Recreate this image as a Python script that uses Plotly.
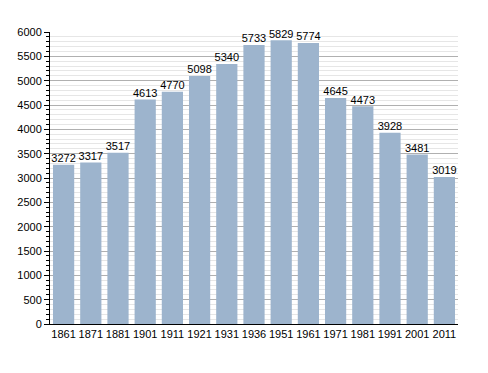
import plotly.graph_objects as go

years = ["1861","1871","1881","1901","1911","1921","1931","1936","1951","1961","1971","1981","1991","2001","2011"]
population = [3272,3317,3517,4613,4770,5098,5340,5733,5829,5774,4645,4473,3928,3481,3019]
y_ticks = list(range(0, 6001, 500))

fig = go.Figure()
fig.add_trace(go.Bar(
    x=years, y=population,
    marker=dict(color="#9db4cd", line=dict(width=0)),
    width=0.78, hoverinfo="x+y",
))
fig.add_trace(go.Scatter(
    x=years, y=population, mode="text",
    text=[str(v) for v in population], textposition="top center",
    textfont=dict(size=11, color="#000"), cliponaxis=False, hoverinfo="skip",
))
fig.update_layout(
    width=488, height=373,
    margin=dict(l=50, r=30, t=32, b=49),
    paper_bgcolor="white", plot_bgcolor="white",
    font=dict(family="Liberation Sans, Arial, sans-serif", size=11, color="#000"),
    showlegend=False,
)
fig.update_xaxes(type="category", range=[-0.5, len(years) - 0.5], tickangle=0,
                 showline=True, linecolor="#000", linewidth=1,
                 ticks="", showgrid=False, tickfont=dict(size=11))
fig.update_yaxes(range=[0, 6000], tickvals=y_ticks, showline=True, linecolor="#000", linewidth=1,
                 ticks="outside", ticklen=5, tickcolor="#000",
                 showgrid=True, gridcolor="#b0b0b0", gridwidth=1,
                 minor=dict(dtick=100, ticks="outside", ticklen=3, tickcolor="#000",
                            showgrid=True, gridcolor="#e6e6e6", gridwidth=1),
                 zeroline=False, tickfont=dict(size=11))
fig.write_html("out.html")
